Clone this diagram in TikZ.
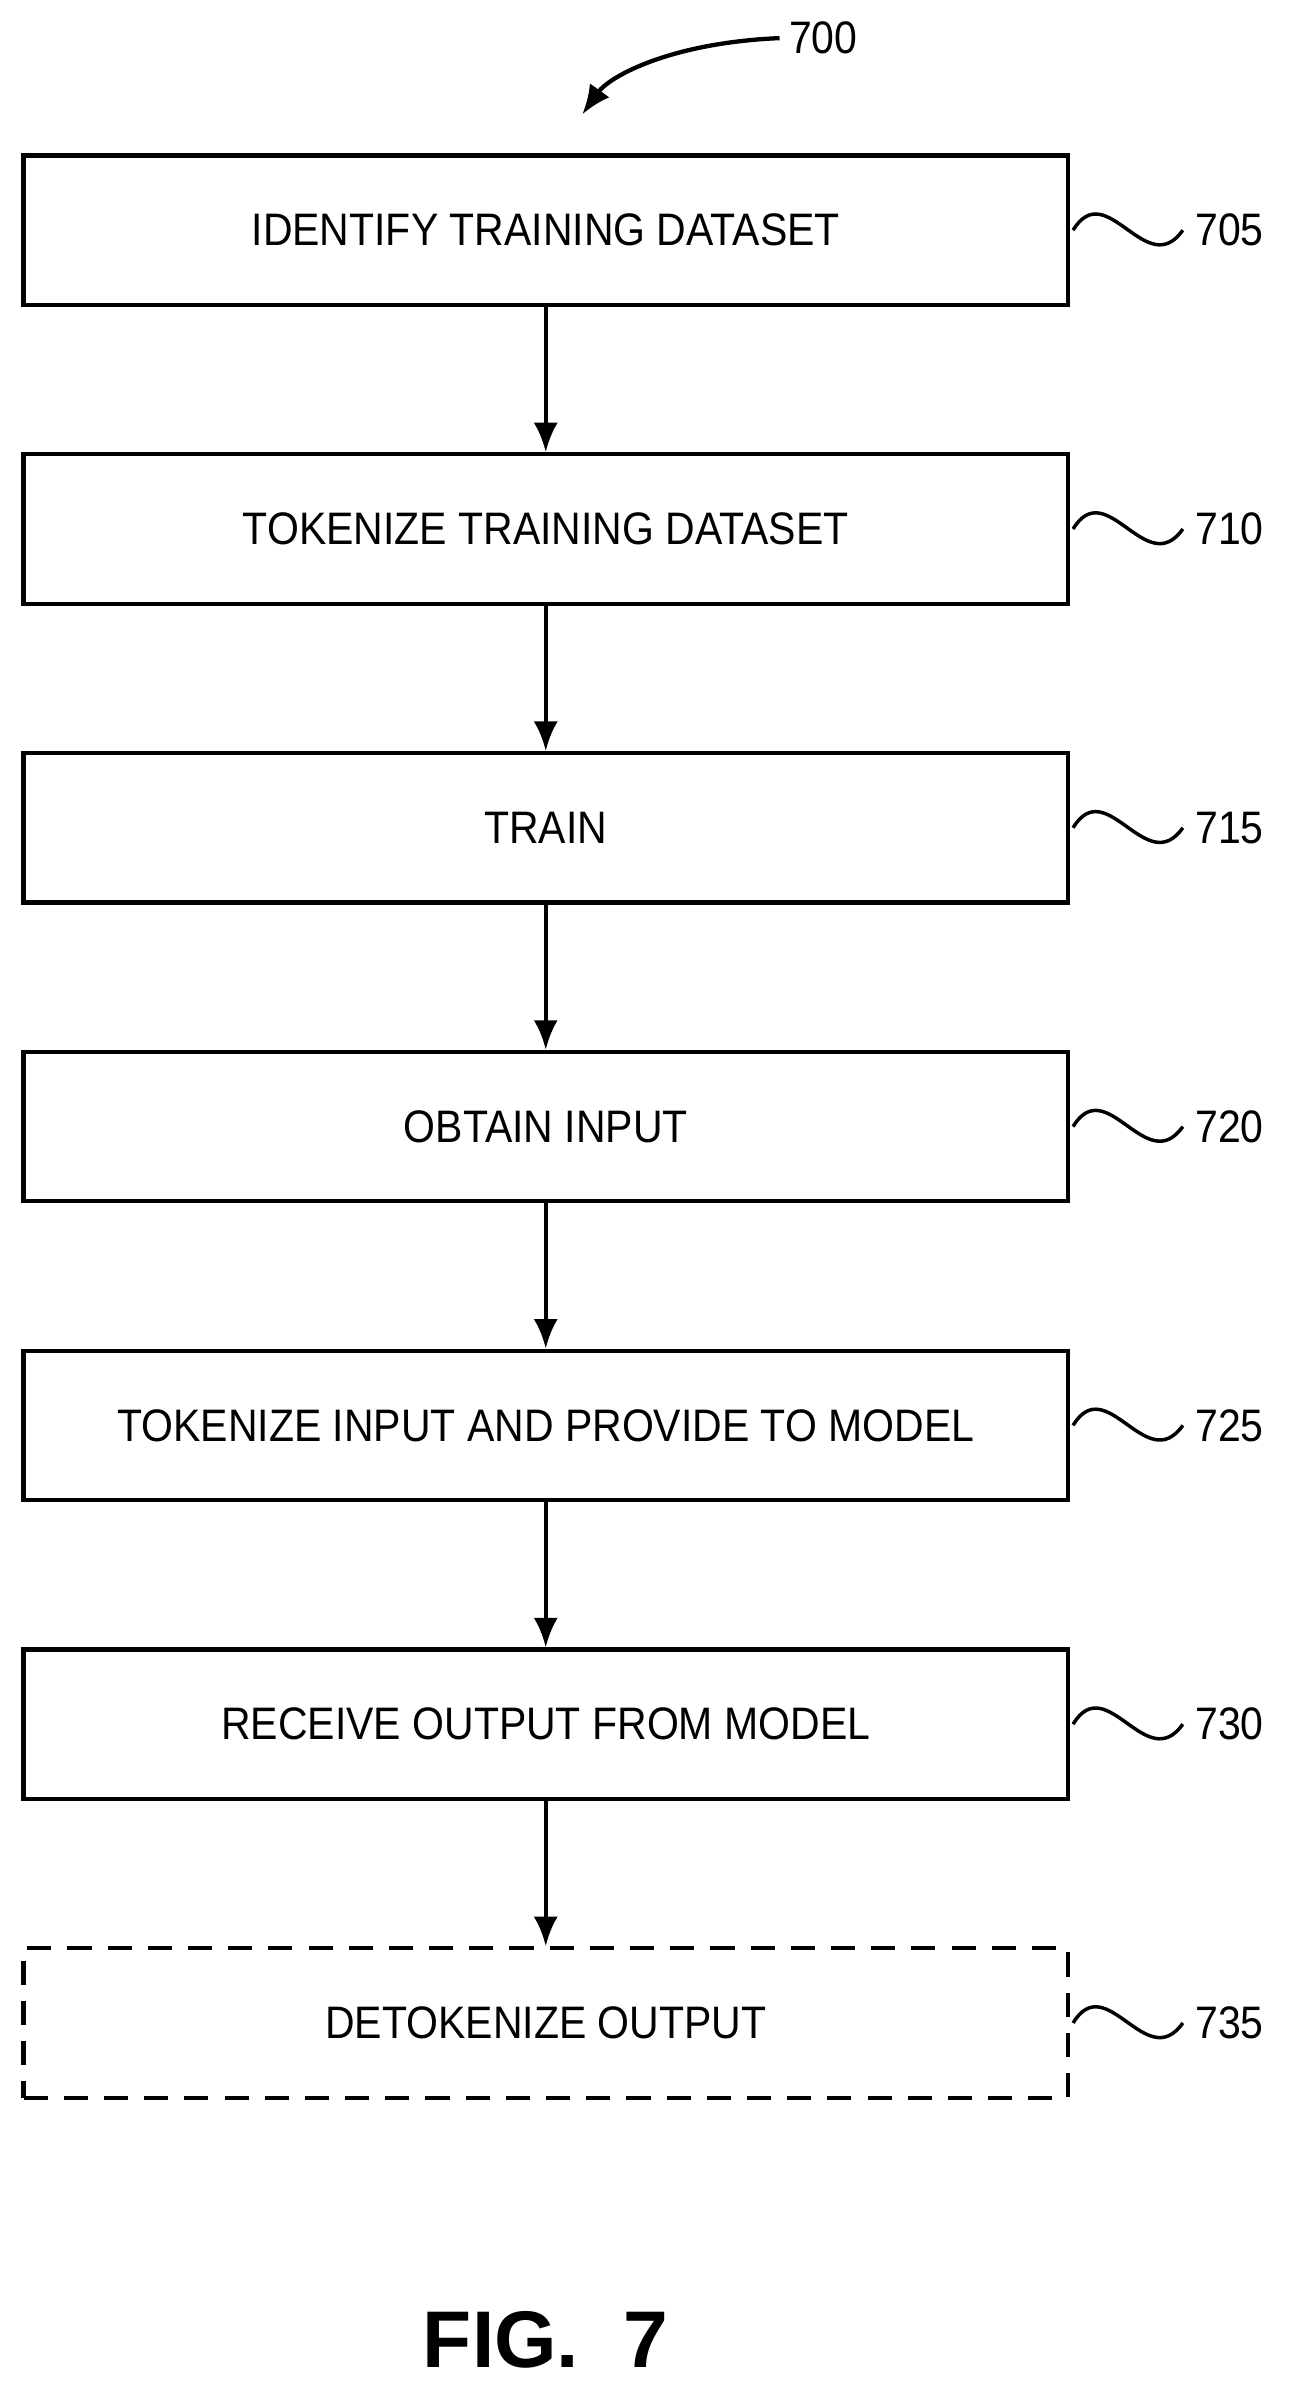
\documentclass[tikz,border=0pt]{standalone}
\usepackage{fontspec}
\setmainfont{Liberation Sans}
\newfontfamily\narrowfont[FakeStretch=0.9]{Liberation Sans}
\usetikzlibrary{arrows.meta}
\tikzset{
  stepbox/.style = {draw=black, line width=1.6pt, minimum width=685*0.2mm,
    minimum height=98*0.2mm, inner sep=0pt, font=\narrowfont\fontsize{17}{20}\selectfont},
  optbox/.style = {stepbox, dash pattern=on 9pt off 6pt},
  flow/.style = {-{Latex[length=11pt,width=9pt]}, line width=1.6pt},
  refnum/.style = {font=\narrowfont\fontsize{17}{20}\selectfont, anchor=west},
  squig/.style = {line width=1.3pt}
}
\begin{document}
\begin{tikzpicture}[x=0.2mm,y=-0.2mm]
  \useasboundingbox (0,0) rectangle (848,1575);
  % steps
  \node [stepbox] (s705) at (358,151) {IDENTIFY TRAINING DATASET};
  \node [stepbox] (s710) at (358,347) {TOKENIZE TRAINING DATASET};
  \node [stepbox] (s715) at (358,543) {TRAIN};
  \node [stepbox] (s720) at (358,739) {OBTAIN INPUT};
  \node [stepbox] (s725) at (358,935) {TOKENIZE INPUT AND PROVIDE TO MODEL};
  \node [stepbox] (s730) at (358,1131) {RECEIVE OUTPUT FROM MODEL};
  \node [optbox] (s735) at (358,1327) {DETOKENIZE OUTPUT};
  \draw [flow] (s705) -- (s710);
  \draw [flow] (s710) -- (s715);
  \draw [flow] (s715) -- (s720);
  \draw [flow] (s720) -- (s725);
  \draw [flow] (s725) -- (s730);
  \draw [flow] (s730) -- (s735);
  % reference numerals
  \foreach \n in {705,710,715,720,725,730,735}{
    \node [refnum] (r\n) at ([xshift=76*0.2mm]s\n.east) {\n};
    \draw [squig] ([xshift=2*0.2mm]s\n.east) .. controls +(22,-36) and +(-24,34) .. ([xshift=-2*0.2mm]r\n.west);
  }
  \node [font=\narrowfont\fontsize{17}{20}\selectfont] (fig) at (540,25) {700};
  \draw [flow] (fig.west) .. controls (440,28) and (400,50) .. (382,75);
  \node [font=\fontsize{30}{34}\selectfont\bfseries] (caption) at (358,1535) {FIG.\ \ 7};
\end{tikzpicture}
\end{document}
